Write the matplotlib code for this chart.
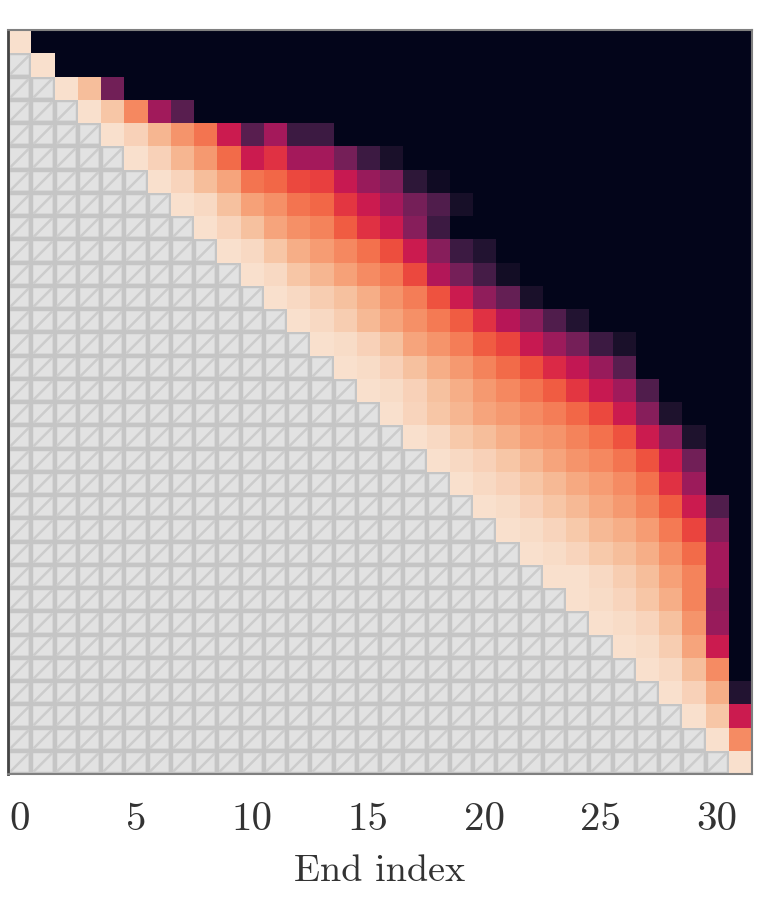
import numpy as np
import matplotlib
matplotlib.use("Agg")
import matplotlib.pyplot as plt
import seaborn as sns
from matplotlib.patches import Rectangle
from matplotlib.collections import PatchCollection, LineCollection

n = 32
# values per start row, beginning at the diagonal cell; cells past the band read as 0 (black)
band = [
    [0.97],
    [0.97],
    [0.97, 0.88, 0.29],
    [0.97, 0.90, 0.75, 0.40, 0.23],
    [0.97, 0.93, 0.86, 0.78, 0.71, 0.50, 0.23, 0.41, 0.16, 0.16],
    [0.97, 0.93, 0.86, 0.79, 0.69, 0.50, 0.57, 0.41, 0.41, 0.30, 0.16, 0.07],
    [0.97, 0.94, 0.88, 0.82, 0.71, 0.68, 0.62, 0.60, 0.49, 0.38, 0.32, 0.12, 0.04],
    [0.97, 0.95, 0.89, 0.81, 0.77, 0.71, 0.68, 0.58, 0.50, 0.41, 0.30, 0.21, 0.06],
    [0.97, 0.94, 0.89, 0.82, 0.77, 0.74, 0.66, 0.57, 0.50, 0.34, 0.16],
    [0.97, 0.95, 0.90, 0.84, 0.80, 0.75, 0.70, 0.63, 0.50, 0.34, 0.16, 0.09],
    [0.97, 0.95, 0.90, 0.86, 0.81, 0.76, 0.72, 0.62, 0.44, 0.30, 0.18, 0.05],
    [0.97, 0.95, 0.92, 0.89, 0.84, 0.78, 0.73, 0.64, 0.50, 0.36, 0.26, 0.07],
    [0.97, 0.95, 0.92, 0.87, 0.82, 0.77, 0.72, 0.66, 0.57, 0.45, 0.34, 0.21, 0.09],
    [0.97, 0.96, 0.93, 0.89, 0.82, 0.78, 0.73, 0.66, 0.61, 0.49, 0.39, 0.30, 0.16, 0.07],
    [0.97, 0.96, 0.93, 0.89, 0.84, 0.79, 0.74, 0.69, 0.63, 0.55, 0.48, 0.38, 0.23],
    [0.97, 0.96, 0.93, 0.89, 0.84, 0.79, 0.75, 0.71, 0.66, 0.58, 0.49, 0.40, 0.21],
    [0.97, 0.94, 0.90, 0.86, 0.82, 0.79, 0.76, 0.73, 0.68, 0.62, 0.50, 0.34, 0.08],
    [0.97, 0.95, 0.91, 0.88, 0.84, 0.80, 0.78, 0.74, 0.70, 0.64, 0.50, 0.34, 0.08],
    [0.97, 0.95, 0.93, 0.90, 0.86, 0.82, 0.78, 0.75, 0.71, 0.64, 0.50, 0.29],
    [0.97, 0.95, 0.93, 0.90, 0.87, 0.83, 0.80, 0.76, 0.70, 0.57, 0.39],
    [0.97, 0.96, 0.93, 0.90, 0.87, 0.83, 0.79, 0.74, 0.66, 0.50, 0.21],
    [0.97, 0.96, 0.94, 0.91, 0.87, 0.84, 0.80, 0.72, 0.61, 0.33],
    [0.97, 0.96, 0.94, 0.91, 0.88, 0.84, 0.77, 0.69, 0.41],
    [0.97, 0.97, 0.95, 0.92, 0.88, 0.81, 0.74, 0.41],
    [0.97, 0.96, 0.94, 0.90, 0.84, 0.74, 0.36],
    [0.97, 0.96, 0.94, 0.89, 0.78, 0.38],
    [0.97, 0.96, 0.92, 0.82, 0.50],
    [0.97, 0.95, 0.88, 0.76],
    [0.97, 0.93, 0.84, 0.09],
    [0.97, 0.90, 0.50],
    [0.97, 0.76],
    [0.97],
]
xticks = [0, 5, 10, 15, 20, 25, 30]
xlabel = "End index"

plt.rcParams["font.family"] = "cmr10"
plt.rcParams["mathtext.fontset"] = "cm"
plt.rcParams["axes.formatter.use_mathtext"] = True

mat = np.zeros((n, n))
for r, vals in enumerate(band):
    mat[r, r:r + len(vals)] = vals
mask = np.tril(np.ones((n, n), dtype=bool), k=-1)
data = np.ma.masked_array(mat, mask)

fig = plt.figure(figsize=(7.78, 9.18), dpi=100)
ax = fig.add_axes([8 / 778, 1 - 774 / 918, 744 / 778, 744 / 918])

# masked (lower) cells: grey boxes with a diagonal stroke
rects, segs = [], []
for r in range(n):
    for c in range(r):
        rects.append(Rectangle((c, r), 1, 1))
        segs.append([(c + 0.1, r + 0.9), (c + 0.9, r + 0.1)])
ax.add_collection(PatchCollection(rects, facecolor="#e2e2e2", edgecolor="#c5c5c5",
                                  linewidth=3.2, zorder=1))
ax.add_collection(LineCollection(segs, colors="#cccccc", linewidths=1.8, zorder=1.5))

cmap = sns.color_palette("rocket", as_cmap=True)
ax.pcolormesh(np.arange(n + 1), np.arange(n + 1), data, cmap=cmap, vmin=0, vmax=1,
              zorder=2, edgecolors="none")

ax.set_xlim(0, n)
ax.set_ylim(n, 0)
ax.set_xticks(np.array(xticks) + 0.5)
ax.set_xticklabels([str(t) for t in xticks], fontsize=29.5, color="#333333")
ax.set_yticks([])
ax.tick_params(axis="x", length=0, pad=20)
ax.set_xlabel(xlabel, fontsize=27.5, labelpad=12, color="#333333")
for s in ax.spines.values():
    s.set_color("#808080")
    s.set_linewidth(1.5)
    s.set_zorder(5)
ax.spines["left"].set_color("#444444")
ax.spines["left"].set_linewidth(2)

fig.savefig("out.png", dpi=100)
